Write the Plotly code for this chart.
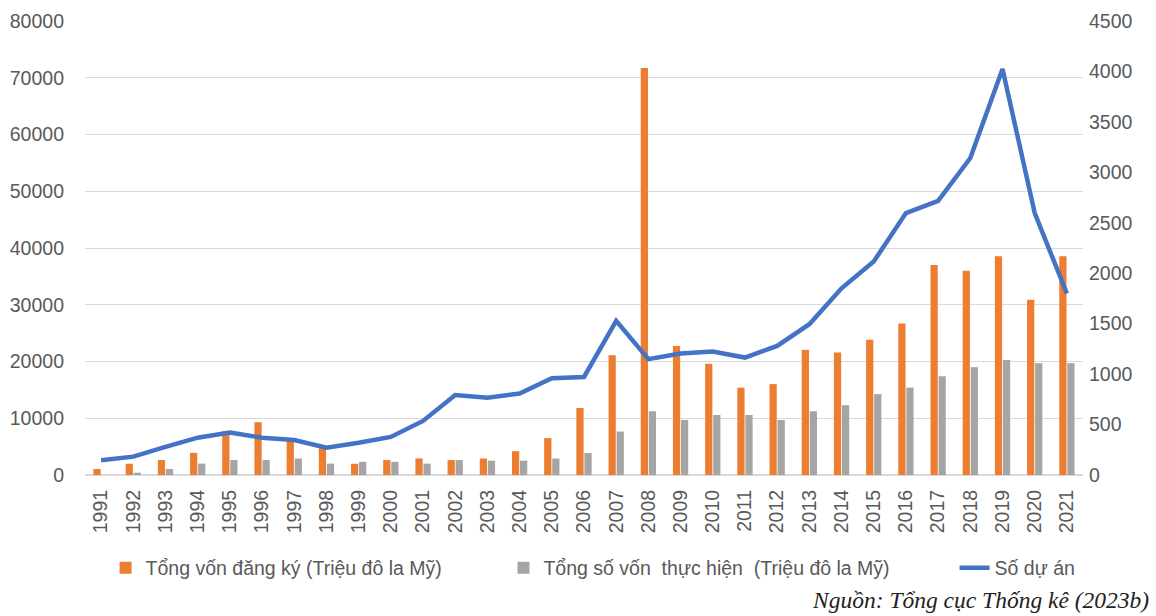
import plotly.graph_objects as go

years = [str(y) for y in range(1991, 2022)]
registered = [1050, 1980, 2630, 3900, 7720, 9300, 6000, 4800, 1980, 2630, 2920, 2630,
              2900, 4200, 6500, 11800, 21100, 71700, 22750, 19600, 15390, 16020, 22050,
              21600, 23850, 26700, 37000, 36000, 38550, 30900, 38550]
disbursed = [0, 400, 1050, 2000, 2630, 2630, 2900, 2000, 2330, 2330, 2000, 2630,
             2530, 2530, 2900, 3860, 7660, 11230, 9700, 10580, 10580, 9700, 11230,
             12300, 14250, 15400, 17400, 19000, 20250, 19700, 19700]
projects = [146, 182, 278, 370, 420, 370, 347, 271, 320, 377, 536, 792,
            767, 807, 959, 972, 1528, 1148, 1204, 1224, 1164, 1280, 1495,
            1850, 2116, 2596, 2718, 3142, 4025, 2596, 1799]

name_reg = "Tổng vốn đăng ký (Triệu đô la Mỹ)"
name_dis = "Tổng số vốn  thực hiện  (Triệu đô la Mỹ)"
name_proj = "Số dự án"
source = "Nguồn: Tổng cục Thống kê (2023b)"

font_main = "Liberation Sans, Arial, sans-serif"
grey_txt = "#595959"
fs = 19.5

fig = go.Figure()
fig.add_trace(go.Bar(x=years, y=registered, name=name_reg, marker_color="#ED7D31",
                     marker_line_width=0, legend="legend"))
fig.add_trace(go.Bar(x=years, y=disbursed, name=name_dis, marker_color="#A5A5A5",
                     marker_line_width=0, legend="legend2"))
fig.add_trace(go.Scatter(x=years, y=projects, name=name_proj, yaxis="y2", mode="lines",
                         line=dict(color="#4472C4", width=4.5), legend="legend3"))

leg_common = dict(orientation="h", xanchor="left", y=-0.162, yanchor="top",
                  font=dict(size=fs, color=grey_txt), itemwidth=30,
                  bgcolor="rgba(0,0,0,0)")

fig.update_layout(
    width=1156, height=616,
    margin=dict(l=85, r=73, t=21, b=141, autoexpand=False),
    paper_bgcolor="white", plot_bgcolor="white",
    barmode="group", bargap=0.5, bargroupgap=0.1,
    font=dict(family=font_main, size=fs, color=grey_txt),
    xaxis=dict(tickangle=-90, showgrid=False, showline=False, ticks="",
               tickfont=dict(size=fs, color=grey_txt), ticklabelstandoff=10,
               automargin=False),
    yaxis=dict(range=[0, 80000], dtick=10000, tickformat="d", showgrid=True,
               gridcolor="#D9D9D9", gridwidth=1, zeroline=True, zerolinecolor="#D9D9D9",
               showline=False, ticks="", tickfont=dict(size=fs, color=grey_txt),
               ticklabelstandoff=20, automargin=False),
    yaxis2=dict(range=[0, 4500], dtick=500, tickformat="d", overlaying="y", side="right",
                showgrid=False, zeroline=False, showline=False, ticks="",
                tickfont=dict(size=fs, color=grey_txt), ticklabelstandoff=5,
                automargin=False),
    legend=dict(x=0.0206, **leg_common),
    legend2=dict(x=0.4193, **leg_common),
    legend3=dict(x=0.8713, **leg_common),
    showlegend=True,
    annotations=[dict(text="<i>" + source + "</i>", xref="paper", yref="paper",
                      x=1.068, xanchor="right", y=-0.275, yanchor="middle", showarrow=False,
                      font=dict(family="Liberation Serif, Times New Roman, serif",
                                size=23.5, color="#222222"))],
)

fig.write_html("out.html", config={"displayModeBar": False},
               post_script="document.body.style.margin='0';")
